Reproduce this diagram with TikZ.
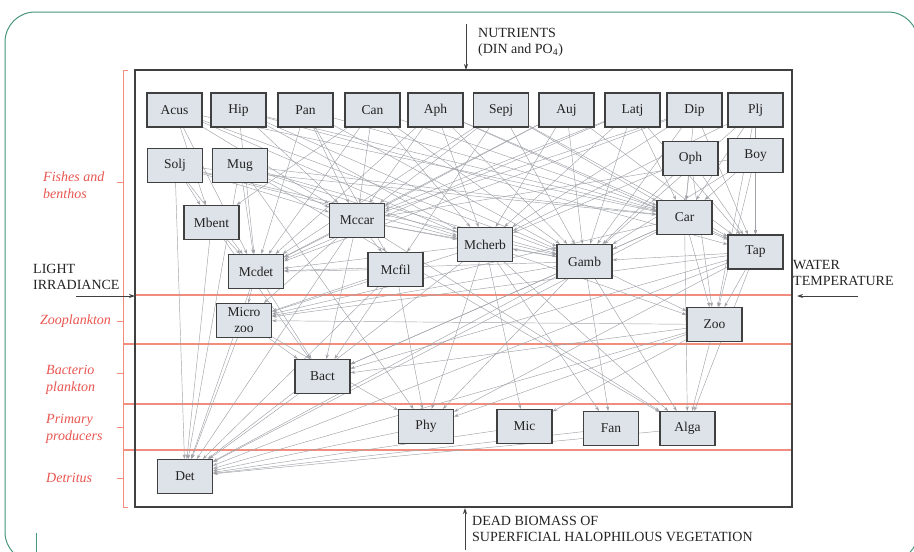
\documentclass[tikz,border=0pt]{standalone}
\usepackage{fontspec}
\setmainfont{Liberation Serif}
\usetikzlibrary{arrows.meta}
\pgfdeclarelayer{bg}
\pgfsetlayers{bg,main}
\definecolor{frameg}{RGB}{70,150,120}
\definecolor{redl}{RGB}{242,140,125}
\definecolor{redt}{RGB}{232,85,80}
\definecolor{boxfill}{RGB}{221,227,233}
\definecolor{edgec}{RGB}{160,162,168}
\definecolor{txt}{RGB}{35,35,35}
\begin{document}
\begin{tikzpicture}[x=1pt,y=-1pt,
  sp/.style={draw=black!75, line width=1.2pt, fill=boxfill, minimum width=55pt, minimum height=34pt, inner sep=1pt, font=\fontsize{13.5}{17}\selectfont, text=txt, align=center},
  edge/.style={draw=edgec, line width=0.45pt, -{Stealth[length=4.5pt,width=3.2pt]}},
  redlab/.style={text=redt, font=\fontsize{14}{17}\selectfont\itshape, align=left, anchor=west, inner sep=0pt},
  blab/.style={text=txt, font=\fontsize{14}{16}\selectfont, align=left, anchor=west, inner sep=0pt},
  flow/.style={draw=black!75, line width=0.9pt, -{Stealth[length=6pt,width=4pt]}},
  redline/.style={draw=redl, line width=1.3pt}]
\useasboundingbox (0,0) rectangle (914,552);
\begin{scope}
\clip (0,0) rectangle (914,552);
\draw[frameg, line width=1pt, rounded corners=30pt] (5,562) -- (5,12) -- (918,12) -- (918,562) -- cycle;
\end{scope}
\draw[frameg, line width=1pt] (36,533) -- (36,552);

% main frame
\draw[black!75, line width=1.3pt] (135,70) rectangle (792,507);

% nodes
\node[sp] (Acus) at (174.5,110) {Acus};
\node[sp] (Hip) at (238.5,110) {Hip};
\node[sp] (Pan) at (305.5,110) {Pan};
\node[sp] (Can) at (372.5,110) {Can};
\node[sp] (Aph) at (435.5,110) {Aph};
\node[sp] (Sepj) at (501,110) {Sepj};
\node[sp] (Auj) at (566.5,110) {Auj};
\node[sp] (Latj) at (632.5,110) {Latj};
\node[sp] (Dip) at (694.5,110) {Dip};
\node[sp] (Plj) at (755.5,110) {Plj};
\node[sp] (Solj) at (175,165.5) {Solj};
\node[sp] (Mug) at (240,165.5) {Mug};
\node[sp] (Oph) at (690.5,158.5) {Oph};
\node[sp] (Boy) at (755.5,155.5) {Boy};
\node[sp] (Mbent) at (211.5,222.5) {Mbent};
\node[sp] (Mccar) at (357,220.5) {Mccar};
\node[sp] (Mcdet) at (256,271.5) {Mcdet};
\node[sp] (Mcfil) at (395.5,269.5) {Mcfil};
\node[sp] (Mcherb) at (485,244.5) {Mcherb};
\node[sp] (Gamb) at (584.5,261.5) {Gamb};
\node[sp] (Car) at (684.5,217.5) {Car};
\node[sp] (Tap) at (755.5,252) {Tap};
\node[sp] (Microzoo) at (244,320.5) {Micro\\[-1pt]zoo};
\node[sp] (Zoo) at (714.5,324.5) {Zoo};
\node[sp] (Bact) at (322.5,376.5) {Bact};
\node[sp] (Phy) at (426,426.5) {Phy};
\node[sp] (Mic) at (524.5,426.5) {Mic};
\node[sp] (Fan) at (611,428.5) {Fan};
\node[sp] (Alga) at (687.5,428.5) {Alga};
\node[sp] (Det) at (185,476.5) {Det};

% labels
\node[redlab] (lfish) at (43,185) {Fishes and\\benthos};
\node[redlab] (lzoo) at (40,321) {Zooplankton};
\node[redlab] (lbact) at (46,380) {Bacterio\\plankton};
\node[redlab] (lprim) at (46,429) {Primary\\producers};
\node[redlab] (ldet) at (46,478) {Detritus};
\node[blab] (llight) at (33,277) {LIGHT\\IRRADIANCE};
\node[blab] (lwater) at (793,273) {WATER\\TEMPERATURE};
\node[blab] (lnut) at (478,42) {NUTRIENTS\\(DIN and PO\textsubscript{4})};
\node[blab] (ldead) at (472,529) {DEAD BIOMASS OF\\SUPERFICIAL HALOPHILOUS VEGETATION};

\coordinate (nutA) at (466,24);
\coordinate (nutB) at (466,70);
\coordinate (deadA) at (465,550);
\coordinate (deadB) at (465,508);
\coordinate (ligA) at (76,296);
\coordinate (ligB) at (135,296);
\coordinate (watA) at (858,296);
\coordinate (watB) at (797,296);
\draw[flow] (nutA) -- (nutB);
\draw[flow] (deadA) -- (deadB);
\draw[flow] (ligA) -- (ligB);
\draw[flow] (watA) -- (watB);

\begin{pgfonlayer}{bg}
% red compartments
\draw[redline] (135,295) -- (792,295);
\draw[redline] (123,344) -- (792,344);
\draw[redline] (123,404) -- (792,404);
\draw[redline] (123,450) -- (792,450);
\draw[redl, line width=1pt] (128,70) -- (123,70) -- (123,507) -- (128,507);
\foreach \yy in {182,321,373,427,478} \draw[redl, line width=1pt] (117,\yy) -- (123,\yy);
% trophic links
\foreach \a/\b in {
 Acus/Mcdet, Acus/Mccar, Acus/Mcherb, Acus/Car, Acus/Gamb, Acus/Mbent,
 Hip/Mcdet, Hip/Mccar, Hip/Mcherb, Hip/Gamb, Hip/Car, Hip/Tap,
 Pan/Mccar, Pan/Gamb, Pan/Mcdet, Pan/Car, Pan/Mcfil,
 Can/Mccar, Can/Gamb, Can/Mcdet, Can/Car, Can/Mbent, Can/Mcherb,
 Aph/Mccar, Aph/Gamb, Aph/Mcdet, Aph/Tap, Aph/Mcherb, Aph/Car,
 Sepj/Gamb, Sepj/Mccar, Sepj/Mcdet, Sepj/Car, Sepj/Tap, Sepj/Mcfil,
 Auj/Gamb, Auj/Mccar, Auj/Mcdet, Auj/Tap, Auj/Mcherb,
 Latj/Gamb, Latj/Mccar, Latj/Mcdet, Latj/Car, Latj/Tap, Latj/Mcherb,
 Dip/Gamb, Dip/Mccar, Dip/Car, Dip/Tap, Dip/Mcherb, Dip/Mcdet,
 Plj/Car, Plj/Gamb, Plj/Tap, Plj/Zoo, Plj/Mcherb,
 Solj/Mcdet, Solj/Mccar, Solj/Mcherb, Solj/Car, Solj/Det, Solj/Gamb, Solj/Mbent,
 Mug/Mcdet, Mug/Mccar, Mug/Mcherb, Mug/Gamb, Mug/Det, Mug/Car, Mug/Alga, Mug/Phy,
 Oph/Car, Oph/Tap, Oph/Gamb, Oph/Zoo, Oph/Mcherb,
 Boy/Car, Boy/Tap, Boy/Zoo, Boy/Gamb, Boy/Mccar,
 Mbent/Det, Mbent/Mcdet, Mbent/Bact,
 Mccar/Mcdet, Mccar/Mcherb, Mccar/Mcfil, Mccar/Microzoo, Mccar/Det, Mccar/Bact, Mccar/Gamb, Mccar/Alga,
 Mcdet/Microzoo, Mcdet/Det, Mcdet/Bact,
 Mcfil/Phy, Mcfil/Microzoo, Mcfil/Det, Mcfil/Bact, Mcfil/Mcdet,
 Mcherb/Mic, Mcherb/Fan, Mcherb/Alga, Mcherb/Det, Mcherb/Microzoo, Mcherb/Phy, Mcherb/Zoo, Mcherb/Mcdet,
 Gamb/Mcherb, Gamb/Alga, Gamb/Fan, Gamb/Det, Gamb/Bact, Gamb/Microzoo, Gamb/Zoo, Gamb/Mcdet, Gamb/Phy,
 Car/Tap, Car/Zoo, Car/Gamb, Car/Alga, Car/Microzoo, Car/Det, Car/Bact,
 Tap/Zoo, Tap/Alga, Tap/Microzoo, Tap/Bact, Tap/Phy, Tap/Det, Tap/Gamb,
 Microzoo/Det, Microzoo/Bact, Microzoo/Phy,
 Zoo/Alga, Zoo/Phy, Zoo/Bact, Zoo/Microzoo, Zoo/Det, Zoo/Mic,
 Bact/Det, Phy/Det, Mic/Det, Fan/Det, Alga/Det}
 \draw[edge] (\a) -- (\b);
\end{pgfonlayer}
\end{tikzpicture}
\end{document}
